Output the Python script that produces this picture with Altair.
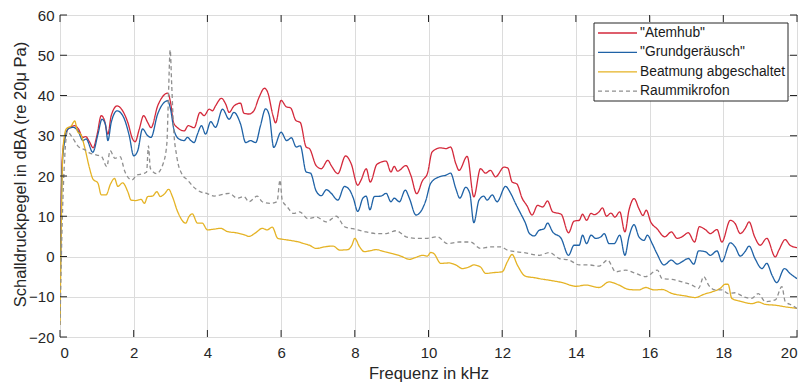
import altair as alt
import pandas as pd

series_names = ['"Atemhub"', '"Grundgeräusch"', 'Beatmung abgeschaltet', 'Raummikrofon']
series_colors = ["#d42a3c", "#1f62a6", "#e5b325", "#8f8f8f"]
series_dashes = [[1, 0], [1, 0], [1, 0], [4, 3]]

x_ticks = [0, 2, 4, 6, 8, 10, 12, 14, 16, 18, 20]
y_ticks = [-20, -10, 0, 10, 20, 30, 40, 50, 60]

atemhub = [
    (0, -12), (0.05, 22), (0.1, 28), (0.25, 32), (0.4, 32.5), (0.5, 31.7), (0.62, 29.6), (0.7, 29.8),
    (0.8, 28.5), (0.9, 27), (1.0, 30), (1.12, 35), (1.2, 34), (1.3, 30.4), (1.39, 35), (1.55, 37.4),
    (1.7, 36.2), (1.84, 33.3), (1.97, 29.2), (2.04, 28.5), (2.15, 31.6), (2.27, 35), (2.38, 33.3),
    (2.47, 32), (2.65, 37.4), (2.81, 40), (2.92, 40.6), (3.0, 38.3), (3.08, 33.3), (3.19, 32),
    (3.37, 31.2), (3.48, 32.5), (3.64, 32), (3.8, 35.8), (3.91, 35), (4.05, 36.6), (4.14, 36.2),
    (4.22, 37.4), (4.38, 39.3), (4.5, 37.8), (4.59, 35.8), (4.72, 37.4), (4.9, 38.1), (4.99, 35.6),
    (5.13, 35.4), (5.26, 36.2), (5.4, 39.5), (5.55, 41.8), (5.64, 40.7), (5.78, 35), (5.85, 33.2),
    (6.0, 38.8), (6.14, 37.2), (6.26, 36.9), (6.4, 33.8), (6.52, 33.3), (6.68, 27.2), (6.77, 26.8),
    (6.95, 22.6), (7.09, 21.8), (7.27, 23.9), (7.36, 22.6), (7.54, 20.6), (7.75, 25), (7.9, 23.1),
    (8.08, 17.7), (8.17, 19), (8.31, 21.8), (8.42, 18.5), (8.6, 22.9), (8.85, 23.7), (8.98, 21),
    (9.07, 22.4), (9.16, 21.2), (9.39, 22.6), (9.52, 20.2), (9.68, 15.6), (9.84, 18.9), (9.97, 20.6),
    (10.1, 26), (10.33, 27), (10.47, 26.8), (10.6, 27.2), (10.74, 23.1), (10.83, 21.4), (11.05, 24.9),
    (11.23, 14.8), (11.41, 21.8), (11.55, 20.7), (11.68, 21.4), (11.82, 19.8), (12.05, 22.2),
    (12.15, 22.0), (12.27, 18.5), (12.4, 18), (12.54, 14.5), (12.68, 12.5), (12.81, 10.3),
    (12.96, 12.7), (13.1, 12.3), (13.23, 13.8), (13.37, 11.1), (13.6, 10.5), (13.8, 5.9), (13.95, 8.8),
    (14.09, 9), (14.18, 10.5), (14.29, 9), (14.41, 10.7), (14.5, 10.4), (14.63, 11.1), (14.72, 12.1),
    (14.83, 10), (14.95, 10.8), (15.06, 9.8), (15.19, 11.1), (15.33, 6.1), (15.44, 11.5), (15.58, 14.4),
    (15.71, 11.9), (15.82, 10.2), (15.91, 11.5), (16.03, 8.6), (16.2, 6.9), (16.41, 4.9), (16.59, 6.1),
    (16.75, 4.5), (16.88, 4.9), (17.05, 5.9), (17.22, 3.6), (17.35, 7.4), (17.51, 6.7), (17.65, 5.7),
    (17.83, 6.7), (17.96, 3.6), (18.19, 9), (18.32, 8.2), (18.46, 5.7), (18.59, 6.9), (18.7, 8.6),
    (18.85, 4.9), (19.0, 2.8), (19.18, 4.5), (19.41, -0.1), (19.51, 1.6), (19.68, 4.2), (19.81, 2.8),
    (20.0, 2.2),
]

grundgeraeusch = [
    (0, -15), (0.05, 20), (0.1, 27), (0.22, 31.7), (0.35, 32.1), (0.49, 31.2), (0.62, 28.8),
    (0.71, 29.2), (0.89, 25.9), (1.03, 30.4), (1.14, 34.1), (1.23, 32.9), (1.3, 28.8), (1.39, 33.3),
    (1.55, 36.2), (1.73, 34.5), (1.88, 30), (2.0, 25), (2.11, 26.3), (2.24, 31.7), (2.38, 30),
    (2.47, 29.6), (2.65, 35.4), (2.83, 38.3), (2.92, 38.7), (3.0, 36.6), (3.1, 31.2), (3.23, 29.2),
    (3.37, 28.8), (3.46, 29.6), (3.55, 28.8), (3.64, 28.3), (3.73, 30.4), (3.84, 32.5), (3.95, 30.4),
    (4.09, 33.5), (4.22, 32.1), (4.41, 36.6), (4.59, 34.1), (4.72, 35.8), (4.9, 32.9), (5.04, 28.3),
    (5.17, 28.8), (5.31, 28.3), (5.44, 32.5), (5.58, 36.7), (5.68, 35), (5.8, 27.1), (6.0, 30.9),
    (6.15, 28.8), (6.28, 29.5), (6.41, 27.2), (6.52, 27.5), (6.68, 21), (6.8, 20.7), (6.95, 16.3),
    (7.09, 15.1), (7.23, 16.6), (7.36, 15.7), (7.54, 14), (7.72, 17.4), (7.86, 16.5), (7.96, 14.5),
    (8.08, 11.2), (8.22, 14.5), (8.31, 15), (8.41, 11.6), (8.53, 14.9), (8.71, 15), (8.85, 15.7),
    (8.98, 13.6), (9.07, 14.5), (9.21, 13.6), (9.37, 16.5), (9.48, 14.5), (9.66, 10.3), (9.82, 11.6),
    (9.93, 14), (10.06, 18.2), (10.29, 19.8), (10.47, 20.2), (10.6, 20.7), (10.74, 16.9), (10.85, 14.5),
    (11.01, 17.2), (11.12, 15.7), (11.23, 8.4), (11.37, 14), (11.5, 15), (11.59, 14), (11.73, 15.3),
    (11.86, 13.6), (12.09, 17.4), (12.23, 15.7), (12.36, 13.2), (12.5, 10.7), (12.63, 8.3),
    (12.74, 5.7), (12.87, 5.1), (13.0, 6.5), (13.14, 6.9), (13.23, 8.3), (13.37, 6.1), (13.6, 4.5),
    (13.8, 0.3), (13.95, 2.8), (14.09, 2.8), (14.18, 5.3), (14.29, 3.2), (14.41, 5.3), (14.54, 4.5),
    (14.68, 4.9), (14.77, 5.7), (14.9, 3.2), (15.04, 3.2), (15.19, 5.3), (15.33, 0.3), (15.44, 4.9),
    (15.58, 7.9), (15.71, 4.9), (15.85, 4), (15.94, 5.3), (16.07, 3.2), (16.2, 0.7), (16.39, -2.1),
    (16.59, -0.9), (16.75, -1.9), (16.88, -1.3), (17.05, -0.5), (17.2, -1.9), (17.33, 1.4),
    (17.51, 1.2), (17.65, 0.3), (17.83, 1.4), (17.96, -1.3), (18.19, 3.4), (18.32, 2.4), (18.46, 0.1),
    (18.59, 1.2), (18.7, 2.6), (18.86, -0.5), (19.05, -3), (19.18, -1.7), (19.32, -4.6), (19.45, -6.5),
    (19.66, -3), (19.81, -4.2), (20, -5.5),
]

beatmung = [
    (0, -17), (0.04, 10), (0.08, 26.7), (0.17, 31.7), (0.31, 32.5), (0.4, 33.7), (0.47, 31.2),
    (0.58, 30), (0.67, 27.1), (0.8, 22), (0.89, 19.3), (1.03, 18.2), (1.12, 15.3), (1.25, 15.3),
    (1.37, 18), (1.48, 19.4), (1.57, 17.4), (1.7, 18.3), (1.84, 16.1), (1.93, 14), (2.06, 13.9),
    (2.2, 14.2), (2.29, 13.2), (2.38, 14.9), (2.51, 15), (2.63, 16.1), (2.72, 14.9), (2.83, 15.5),
    (2.95, 16.7), (3.05, 14.9), (3.19, 11.2), (3.41, 8.3), (3.5, 9.9), (3.59, 10.6), (3.73, 8.3),
    (3.86, 8.3), (4.0, 6.6), (4.18, 6.8), (4.36, 7), (4.54, 6.2), (4.77, 5.9), (5.0, 5.4), (5.13, 5),
    (5.31, 5.9), (5.49, 7), (5.62, 6.6), (5.76, 7.3), (5.91, 4.5), (6.03, 4.3), (6.25, 4), (6.43, 3.7),
    (6.66, 3.1), (6.77, 2.8), (6.95, 2), (7.18, 2.4), (7.41, 2.6), (7.59, 1.6), (7.81, 1.7),
    (7.92, 2.8), (8.0, 4.5), (8.13, 2.4), (8.26, 1.2), (8.4, 1.4), (8.58, 1.7), (8.8, 1.2), (9.03, 0.7),
    (9.25, 0.1), (9.48, -0.7), (9.66, -0.2), (9.84, 0.3), (9.97, 0.1), (10.06, 1), (10.15, 0.7),
    (10.33, -1.7), (10.56, -1.6), (10.74, -2.1), (10.92, -3), (11.1, -2.6), (11.23, -2.1),
    (11.41, -2.6), (11.55, -4.2), (11.77, -4), (12.0, -3.8), (12.14, -1.3), (12.27, 0.5),
    (12.41, -2.1), (12.63, -4.9), (12.9, -5.3), (13.01, -5.5), (13.28, -5.9), (13.64, -6.5),
    (14.0, -7.4), (14.27, -7.1), (14.63, -7.7), (14.9, -6.3), (15.17, -7.1), (15.44, -8.2),
    (15.71, -8.3), (15.89, -7.7), (16.12, -8.3), (16.34, -8.2), (16.61, -9.2), (16.97, -9.8),
    (17.24, -10.2), (17.47, -9.4), (17.69, -8.8), (17.92, -7.9), (18.05, -6.9), (18.13, -6.9),
    (18.23, -10.4), (18.5, -11.2), (18.77, -11.7), (18.95, -11.3), (19.14, -11.9), (19.41, -12.1),
    (19.68, -12.5), (20, -12.9),
]

raummikrofon = [
    (0, -17), (0.05, 5), (0.13, 25), (0.2, 31), (0.32, 29.8), (0.5, 27.3), (0.68, 26.5), (0.81, 25.7),
    (1.0, 25.2), (1.13, 24.8), (1.27, 22.3), (1.36, 26.3), (1.49, 24.4), (1.63, 24.8), (1.76, 21.1),
    (1.95, 19), (2.08, 20.2), (2.26, 20.6), (2.35, 21), (2.4, 27.5), (2.45, 22), (2.49, 21.4),
    (2.62, 20.6), (2.8, 23.1), (2.9, 28.1), (2.94, 38.9), (2.99, 51.3), (3.03, 43), (3.08, 32.3),
    (3.17, 24.8), (3.3, 20.6), (3.46, 19), (3.62, 17.3), (3.8, 16.1), (3.98, 15.7), (4.18, 15),
    (4.36, 15.3), (4.59, 15.7), (4.81, 14.5), (4.99, 14.9), (5.13, 13.6), (5.35, 15), (5.49, 13.6),
    (5.71, 13.2), (5.89, 13.6), (5.97, 19), (6.03, 14), (6.16, 12.4), (6.34, 10.7), (6.5, 11.1),
    (6.73, 9.4), (6.95, 9.8), (7.23, 8.6), (7.5, 10), (7.72, 7.4), (7.95, 6.9), (8.31, 6.1),
    (8.58, 5.7), (8.85, 5.7), (9.12, 6.4), (9.39, 4.9), (9.66, 4.5), (9.93, 4.5), (10.24, 4.9),
    (10.51, 3.2), (10.83, 3.6), (11.14, 3.6), (11.41, 2), (11.68, 2.4), (11.95, 2.4), (12.14, 1.6),
    (12.36, 1.2), (12.63, 0.9), (13.01, 0.3), (13.28, 1.0), (13.55, -0.5), (13.82, -0.9),
    (14.09, -2.1), (14.36, -2.1), (14.63, -2.4), (14.86, -0.9), (15.08, -3.8), (15.35, -3.4),
    (15.62, -4.2), (15.89, -5), (16.21, -3.4), (16.34, -5.5), (16.61, -5.7), (16.88, -6.3),
    (17.15, -7.1), (17.33, -7.9), (17.47, -5), (17.6, -7.1), (17.78, -8.3), (17.96, -8.3),
    (18.14, -9.2), (18.32, -9), (18.55, -10), (18.77, -10.4), (18.95, -9.2), (19.14, -11.2),
    (19.41, -10.8), (19.59, -7.5), (19.68, -11.2), (19.86, -12.1), (20, -12.9),
]

rows = []
for name, pts in zip(series_names, [atemhub, grundgeraeusch, beatmung, raummikrofon]):
    for f, v in pts:
        rows.append({"series": name, "f": f, "v": v})
df = pd.DataFrame(rows)

W, H = 737, 322
x_title = "Frequenz in kHz"
y_title = "Schalldruckpegel in dBA (re 20μ Pa)"
x_scale = alt.Scale(domain=[0, 20], nice=False, zero=False)
y_scale = alt.Scale(domain=[-20, 60], nice=False, zero=False)

x_axis = alt.Axis(values=x_ticks, labelPadding=8, titleX=W / 2, titleY=36,
                  titleBaseline="middle", titleAlign="center")
y_axis = alt.Axis(values=y_ticks, labelPadding=6, titleX=-40, titleY=H / 2 - 2,
                  titleAngle=270, titleBaseline="middle", titleAlign="center")

lines = alt.Chart(df).mark_line(strokeWidth=1.3, interpolate="monotone", clip=True).encode(
    x=alt.X("f:Q", scale=x_scale, axis=x_axis, title=x_title),
    y=alt.Y("v:Q", scale=y_scale, axis=y_axis, title=y_title),
    color=alt.Color("series:N", scale=alt.Scale(domain=series_names, range=series_colors), legend=None),
    strokeDash=alt.StrokeDash("series:N", scale=alt.Scale(domain=series_names, range=series_dashes),
                              legend=None),
)

xt = pd.DataFrame({"f": x_ticks})
yt = pd.DataFrame({"v": y_ticks})
tick_color = "#262626"
bottom_ticks = alt.Chart(xt).mark_rule(color=tick_color, strokeWidth=1).encode(
    x=alt.X("f:Q", title=x_title), y=alt.value(H), y2=alt.value(H - 7))
top_ticks = alt.Chart(xt).mark_rule(color=tick_color, strokeWidth=1).encode(
    x=alt.X("f:Q", title=x_title), y=alt.value(0), y2=alt.value(7))
left_ticks = alt.Chart(yt).mark_rule(color=tick_color, strokeWidth=1).encode(
    y=alt.Y("v:Q", title=y_title), x=alt.value(0), x2=alt.value(7))
right_ticks = alt.Chart(yt).mark_rule(color=tick_color, strokeWidth=1).encode(
    y=alt.Y("v:Q", title=y_title), x=alt.value(W), x2=alt.value(W - 7))

# legend (drawn manually, MATLAB style)
lx0, lx1, ly0, ly1 = 534, 728, 8, 86
legend_box = alt.Chart(pd.DataFrame({"a": [0]})).mark_rect(
    fill="white", stroke="#262626", strokeWidth=1).encode(
    x=alt.value(lx0), x2=alt.value(lx1), y=alt.value(ly0), y2=alt.value(ly1))
legend_layers = [legend_box]
for i, name in enumerate(series_names):
    yy = 18 + 19.4 * i
    ldf = pd.DataFrame({"s": [name]})
    legend_layers.append(
        alt.Chart(ldf).mark_rule(color=series_colors[i], strokeWidth=1.3,
                                 strokeDash=series_dashes[i]).encode(
            x=alt.value(538), x2=alt.value(577), y=alt.value(yy)))
    legend_layers.append(
        alt.Chart(ldf).mark_text(align="left", baseline="middle", fontSize=13.8,
                                 font="Liberation Sans", color="#1a1a1a").encode(
            x=alt.value(580), y=alt.value(yy), text="s:N"))

chart = alt.layer(lines, bottom_ticks, top_ticks, left_ticks, right_ticks, *legend_layers).properties(
    width=W, height=H,
    padding={"left": 52, "top": 7, "right": 3, "bottom": 56},
    autosize=alt.AutoSizeParams(type="none"),
).configure_view(
    stroke="#262626", strokeWidth=1
).configure_axis(
    grid=True, gridColor="#dcdcdc", gridWidth=1, domain=False, ticks=False,
    labelFont="Liberation Sans", labelFontSize=15, labelColor="#262626",
    titleFont="Liberation Sans", titleFontSize=16.5, titleColor="#262626", titleFontWeight="normal",
)

chart.save("out.html", embed_options={"renderer": "svg", "actions": False})
